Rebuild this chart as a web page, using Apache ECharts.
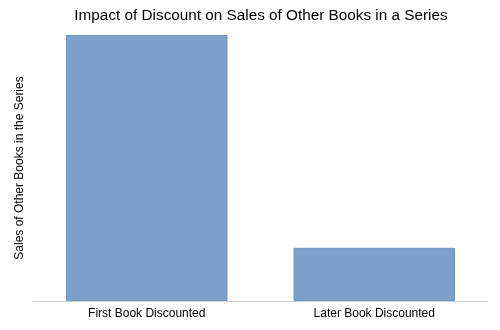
<!DOCTYPE html>
<html>
<head>
<meta charset="utf-8">
<script src="https://cdn.jsdelivr.net/npm/echarts@6/dist/echarts.min.js"></script>
<style>html,body{margin:0;padding:0;background:#fff}#c{width:500px;height:330px}</style>
</head>
<body>
<div id="c"></div>
<script>
const categories = ["First Book Discounted", "Later Book Discounted"];
const salesValues = [100, 20];
const chartTitle = "Impact of Discount on Sales of Other Books in a Series";
const yAxisName = "Sales of Other Books in the Series";

const chart = echarts.init(document.getElementById('c'), null, {renderer: 'canvas'});
chart.setOption({
  animation: false,
  backgroundColor: '#ffffff',
  title: {
    text: chartTitle,
    left: 256,
    textAlign: 'center',
    top: 3,
    textStyle: {fontFamily: 'Liberation Sans, Arial, sans-serif', fontSize: 15.3, fontWeight: 'normal', color: '#000'}
  },
  grid: {left: 33, right: 12, top: 35, bottom: 29, containLabel: false},
  xAxis: {
    type: 'category',
    data: categories,
    axisLine: {show: true, lineStyle: {color: '#d0d0d0', width: 1}},
    axisTick: {show: false},
    axisLabel: {fontFamily: 'Liberation Sans, Arial, sans-serif', fontSize: 12, color: '#000', margin: 7}
  },
  yAxis: {
    type: 'value',
    min: 0,
    max: 100,
    name: yAxisName,
    nameLocation: 'middle',
    nameGap: 7,
    nameTextStyle: {fontFamily: 'Liberation Sans, Arial, sans-serif', fontSize: 12, color: '#000'},
    axisLine: {show: false},
    axisTick: {show: false},
    axisLabel: {show: false},
    splitLine: {show: false}
  },
  series: [{
    type: 'bar',
    data: salesValues,
    barCategoryGap: '29%',
    itemStyle: {color: '#7ba1cb', borderColor: '#6f96c4', borderWidth: 1}
  }]
});
</script>
</body>
</html>
